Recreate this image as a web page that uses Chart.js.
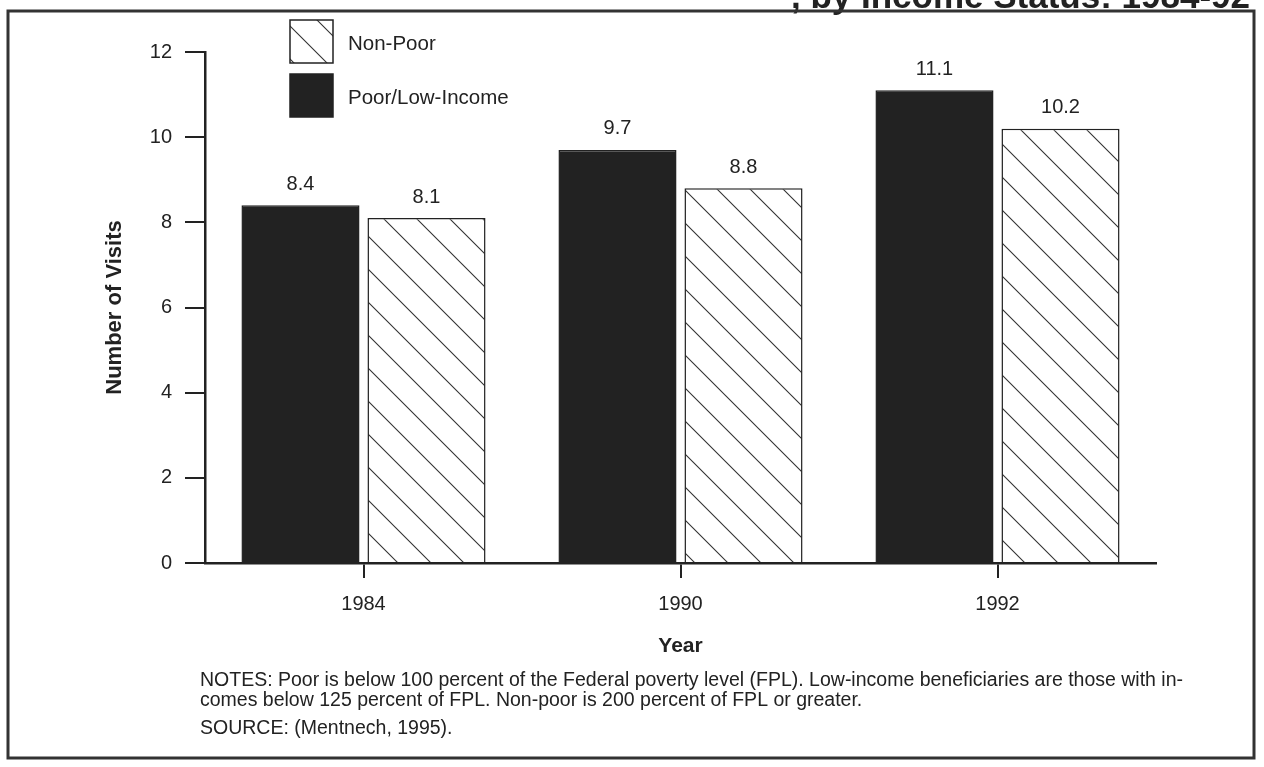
<!DOCTYPE html>
<html>
<head>
<meta charset="utf-8">
<script src="https://cdn.jsdelivr.net/npm/chart.js@4.4.0/dist/chart.umd.min.js"></script>
<style>
html, body { margin: 0; padding: 0; background: #fff; }
</style>
</head>
<body>
<canvas id="visits" width="1264" height="767"></canvas>
<script>
// values
const years = ['1984', '1990', '1992'];
const poorLow = [8.4, 9.7, 11.1];
const nonPoor = [8.1, 8.8, 10.2];
const yTicks = [0, 2, 4, 6, 8, 10, 12];

const ink = '#222';
const fontFam = "'Liberation Sans', Arial, Helvetica, sans-serif";

const ctx = document.getElementById('visits');

// diagonal hatch for the Non-Poor bars
function hatch() {
    const c = document.createElement('canvas');
    c.width = 33; c.height = 33;
    const g = c.getContext('2d');
    g.fillStyle = '#fff';
    g.fillRect(0, 0, 33, 33);
    g.strokeStyle = '#333';
    g.lineWidth = 1.1;
    g.beginPath();
    g.moveTo(-4, -4); g.lineTo(37, 37);
    g.moveTo(-4, 29); g.lineTo(4, 37);
    g.moveTo(29, -4); g.lineTo(37, 4);
    g.stroke();
    return ctx.getContext('2d').createPattern(c, 'repeat');
}
const hatchFill = hatch();

const valueLabels = {
    id: 'valueLabels',
    afterDatasetsDraw(chart) {
        const c = chart.ctx;
        c.save();
        c.font = '20px ' + fontFam;
        c.fillStyle = ink;
        c.textAlign = 'center';
        c.textBaseline = 'middle';
        chart.data.datasets.forEach((ds, i) => {
            chart.getDatasetMeta(i).data.forEach((bar, j) => {
                c.fillText(ds.data[j].toFixed(1), bar.x, bar.y - 21);
            });
        });
        c.restore();
    }
};

// legend stacked top-left, Non-Poor first
const boxLegend = {
    id: 'boxLegend',
    afterDraw(chart) {
        const c = chart.ctx;
        const order = [1, 0];
        c.save();
        c.font = '20.5px ' + fontFam;
        c.textBaseline = 'middle';
        order.forEach((di, k) => {
            const ds = chart.data.datasets[di];
            const y = 20 + k * 54;
            c.fillStyle = ds.backgroundColor;
            c.fillRect(290, y, 43, 43);
            c.strokeStyle = ink;
            c.lineWidth = 1.5;
            c.strokeRect(290, y, 43, 43);
            c.fillStyle = ink;
            c.fillText(ds.label, 348, y + 24);
        });
        c.restore();
    }
};

const frameAndNotes = {
    id: 'frameAndNotes',
    afterDraw(chart) {
        const c = chart.ctx;
        c.save();
        // title, mostly cut off by the top edge of the scan
        c.font = 'bold 35px ' + fontFam;
        c.fillStyle = ink;
        c.textAlign = 'right';
        c.textBaseline = 'alphabetic';
        c.fillText(', by Income Status: 1984-92', 1250, 8);
        c.strokeStyle = '#333';
        c.lineWidth = 3;
        c.strokeRect(8, 11, 1246, 747);
        c.textAlign = 'left';
        c.textBaseline = 'middle';
        c.font = '19.5px ' + fontFam;
        c.fillText('NOTES: Poor is below 100 percent of the Federal poverty level (FPL). Low-income beneficiaries are those with in-', 200, 681);
        c.fillText('comes below 125 percent of FPL. Non-poor is 200 percent of FPL or greater.', 200, 701);
        c.fillText('SOURCE: (Mentnech, 1995).', 200, 729);
        c.restore();
    }
};

const chart = new Chart(ctx, {
    type: 'bar',
    data: {
        labels: years,
        datasets: [{
            label: 'Poor/Low-Income',
            data: poorLow,
            backgroundColor: ink,
            borderColor: ink,
            borderWidth: 1.5,
            categoryPercentage: 0.795,
            barPercentage: 0.937,
        },
        {
            label: 'Non-Poor',
            data: nonPoor,
            backgroundColor: hatchFill,
            borderColor: ink,
            borderWidth: 1.5,
            categoryPercentage: 0.795,
            barPercentage: 0.937,
        }],
    },
    options: {
        responsive: false,
        animation: false,
        layout: {
            padding: { top: 52, right: 108, left: 0, bottom: 104 }
        },
        plugins: {
            legend: { display: false },
            tooltip: { enabled: false },
        },
        scales: {
            x: {
                afterFit(scale) { scale.height = 100; },
                grid: { offset: false, drawOnChartArea: false, tickLength: 15, color: ink, lineWidth: 2 },
                border: { display: true, color: ink, width: 2.5 },
                ticks: { color: ink, padding: 14, font: { family: fontFam, size: 20 } },
                title: {
                    display: true,
                    text: 'Year',
                    color: ink,
                    padding: { top: 0, bottom: 4 },
                    font: { family: fontFam, size: 21, weight: 'bold' }
                }
            },
            y: {
                min: 0,
                max: 12,
                afterFit(scale) { scale.width = 205; },
                afterBuildTicks(scale) { scale.ticks = yTicks.map(v => ({ value: v })); },
                grid: { drawOnChartArea: false, tickLength: 20, color: ink, lineWidth: 2 },
                border: { display: true, color: ink, width: 2.5 },
                ticks: { color: ink, padding: 13, font: { family: fontFam, size: 20 } },
                title: {
                    display: true,
                    text: 'Number of Visits',
                    color: ink,
                    padding: { top: 102, bottom: 0 },
                    font: { family: fontFam, size: 22, weight: 'bold' }
                }
            }
        }
    },
    plugins: [valueLabels, boxLegend, frameAndNotes]
});
</script>
</body>
</html>
